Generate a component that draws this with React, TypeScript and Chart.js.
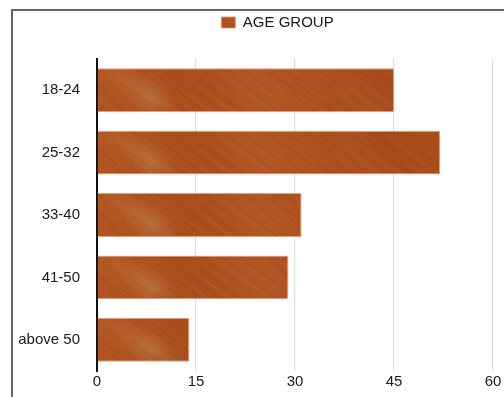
import React, { useEffect, useRef } from "react";
import { Chart, registerables } from "chart.js";

Chart.register(...registerables);

const categories = ["18-24", "25-32", "33-40", "41-50", "above 50"];
const ageGroupValues = [45, 52, 31, 29, 14];
const xTicks = [0, 15, 30, 45, 60];
const seriesLabel = "AGE GROUP";

const FONT = 'Helvetica, Arial, "Liberation Sans", sans-serif';

function makeWoodPattern(): CanvasPattern | string {
  const c = document.createElement("canvas");
  const w = 504;
  const h = 63;
  c.width = w;
  c.height = h;
  const ctx = c.getContext("2d");
  if (!ctx) return "#ad521f";
  const g = ctx.createLinearGradient(0, 0, w, 0);
  g.addColorStop(0, "#ab4f1e");
  g.addColorStop(0.2, "#b25522");
  g.addColorStop(0.35, "#a94d1d");
  g.addColorStop(0.55, "#b05322");
  g.addColorStop(0.75, "#a64a1b");
  g.addColorStop(1, "#ad501e");
  ctx.fillStyle = g;
  ctx.fillRect(0, 0, w, h);
  // light patches (elongated diagonally)
  const patch = (x: number, y: number, r: number, col: string) => {
    ctx.save();
    ctx.translate(x, y);
    ctx.rotate(0.6);
    ctx.scale(1.5, 0.8);
    const rg = ctx.createRadialGradient(0, 0, 1, 0, 0, r);
    rg.addColorStop(0, col);
    rg.addColorStop(1, "rgba(200,140,90,0)");
    ctx.fillStyle = rg;
    ctx.fillRect(-r, -r, 2 * r, 2 * r);
    ctx.restore();
  };
  patch(150, 34, 24, "rgba(200,150,100,0.4)");
  patch(250, 20, 30, "rgba(195,120,70,0.18)");
  patch(370, 40, 30, "rgba(190,115,70,0.15)");
  patch(120, 14, 18, "rgba(200,130,80,0.2)");
  // diagonal scratches (deterministic)
  ctx.lineWidth = 0.7;
  for (let i = 0; i < 160; i++) {
    const x0 = ((i * 41) % (w + 100)) - 100;
    const len = 15 + ((i * 17) % 45);
    const y0 = (i * 29) % h;
    ctx.strokeStyle = i % 3 === 0 ? "rgba(90,30,8,0.18)" : "rgba(235,170,120,0.15)";
    ctx.beginPath();
    ctx.moveTo(x0, y0);
    ctx.lineTo(x0 + len, y0 + len * 0.75);
    ctx.stroke();
  }
  const p = ctx.createPattern(c, "repeat");
  return p || "#ad521f";
}

const legendShift = {
  id: "legendShift",
  afterLayout(chart: any) {
    const lg = chart.legend;
    if (lg) {
      lg.left += 29;
      lg.right += 29;
    }
  },
};

export default function App() {
  const ref = useRef<HTMLCanvasElement | null>(null);

  useEffect(() => {
    if (!ref.current) return;
    const pattern = makeWoodPattern();
    const chart = new Chart(ref.current, {
      type: "bar",
      data: {
        labels: categories,
        datasets: [
          {
            label: seriesLabel,
            data: ageGroupValues,
            backgroundColor: pattern as any,
            borderColor: "rgba(225,150,105,0.9)",
            borderWidth: 1,
            barPercentage: 0.88,
            categoryPercentage: 0.8,
          },
        ],
      },
      options: {
        indexAxis: "y",
        animation: false,
        responsive: false,
        devicePixelRatio: 1,
        layout: { padding: { left: 4, right: 11, top: 5, bottom: 4 } },
        plugins: {
          legend: {
            display: true,
            position: "top",
            labels: {
              boxWidth: 14,
              boxHeight: 11,
              padding: 10,
              color: "#1a1a1a",
              font: { family: FONT, size: 15 },
            },
          },
          tooltip: { enabled: false },
        },
        scales: {
          x: {
            type: "linear",
            position: "bottom",
            min: 0,
            max: 60,
            afterBuildTicks: (s: any) => {
              s.ticks = xTicks.map((v) => ({ value: v }));
            },
            grid: { display: true, drawTicks: false, color: "#dcdcdc", lineWidth: 1.2 },
            border: { display: false },
            ticks: { padding: 2, color: "#1a1a1a", font: { family: FONT, size: 15 } },
          },
          xTop: {
            type: "linear",
            position: "top",
            display: true,
            grid: { display: false, drawTicks: false },
            border: { display: false },
            ticks: { display: false },
            afterFit: (s: any) => {
              s.height = 19;
            },
          },
          y: {
            grid: { display: false, drawTicks: false },
            border: { display: true, color: "#111", width: 2 },
            ticks: { padding: 17, color: "#1a1a1a", font: { family: FONT, size: 15 } },
            afterFit: (s: any) => {
              s.width = 93;
            },
          },
        },
      } as any,
      plugins: [legendShift],
    });
    return () => chart.destroy();
  }, []);

  return (
    <div
      style={{
        position: "fixed",
        left: 0,
        top: 0,
        width: 504,
        height: 397,
        overflow: "hidden",
        background: "#fff",
      }}
    >
      <div
        style={{
          position: "absolute",
          left: 11,
          top: 9,
          width: 620,
          height: 520,
          border: "2px solid #666",
        }}
      />
      <canvas
        ref={ref}
        width={504}
        height={397}
        style={{ position: "absolute", left: 0, top: 0, width: 504, height: 397 }}
      />
    </div>
  );
}
